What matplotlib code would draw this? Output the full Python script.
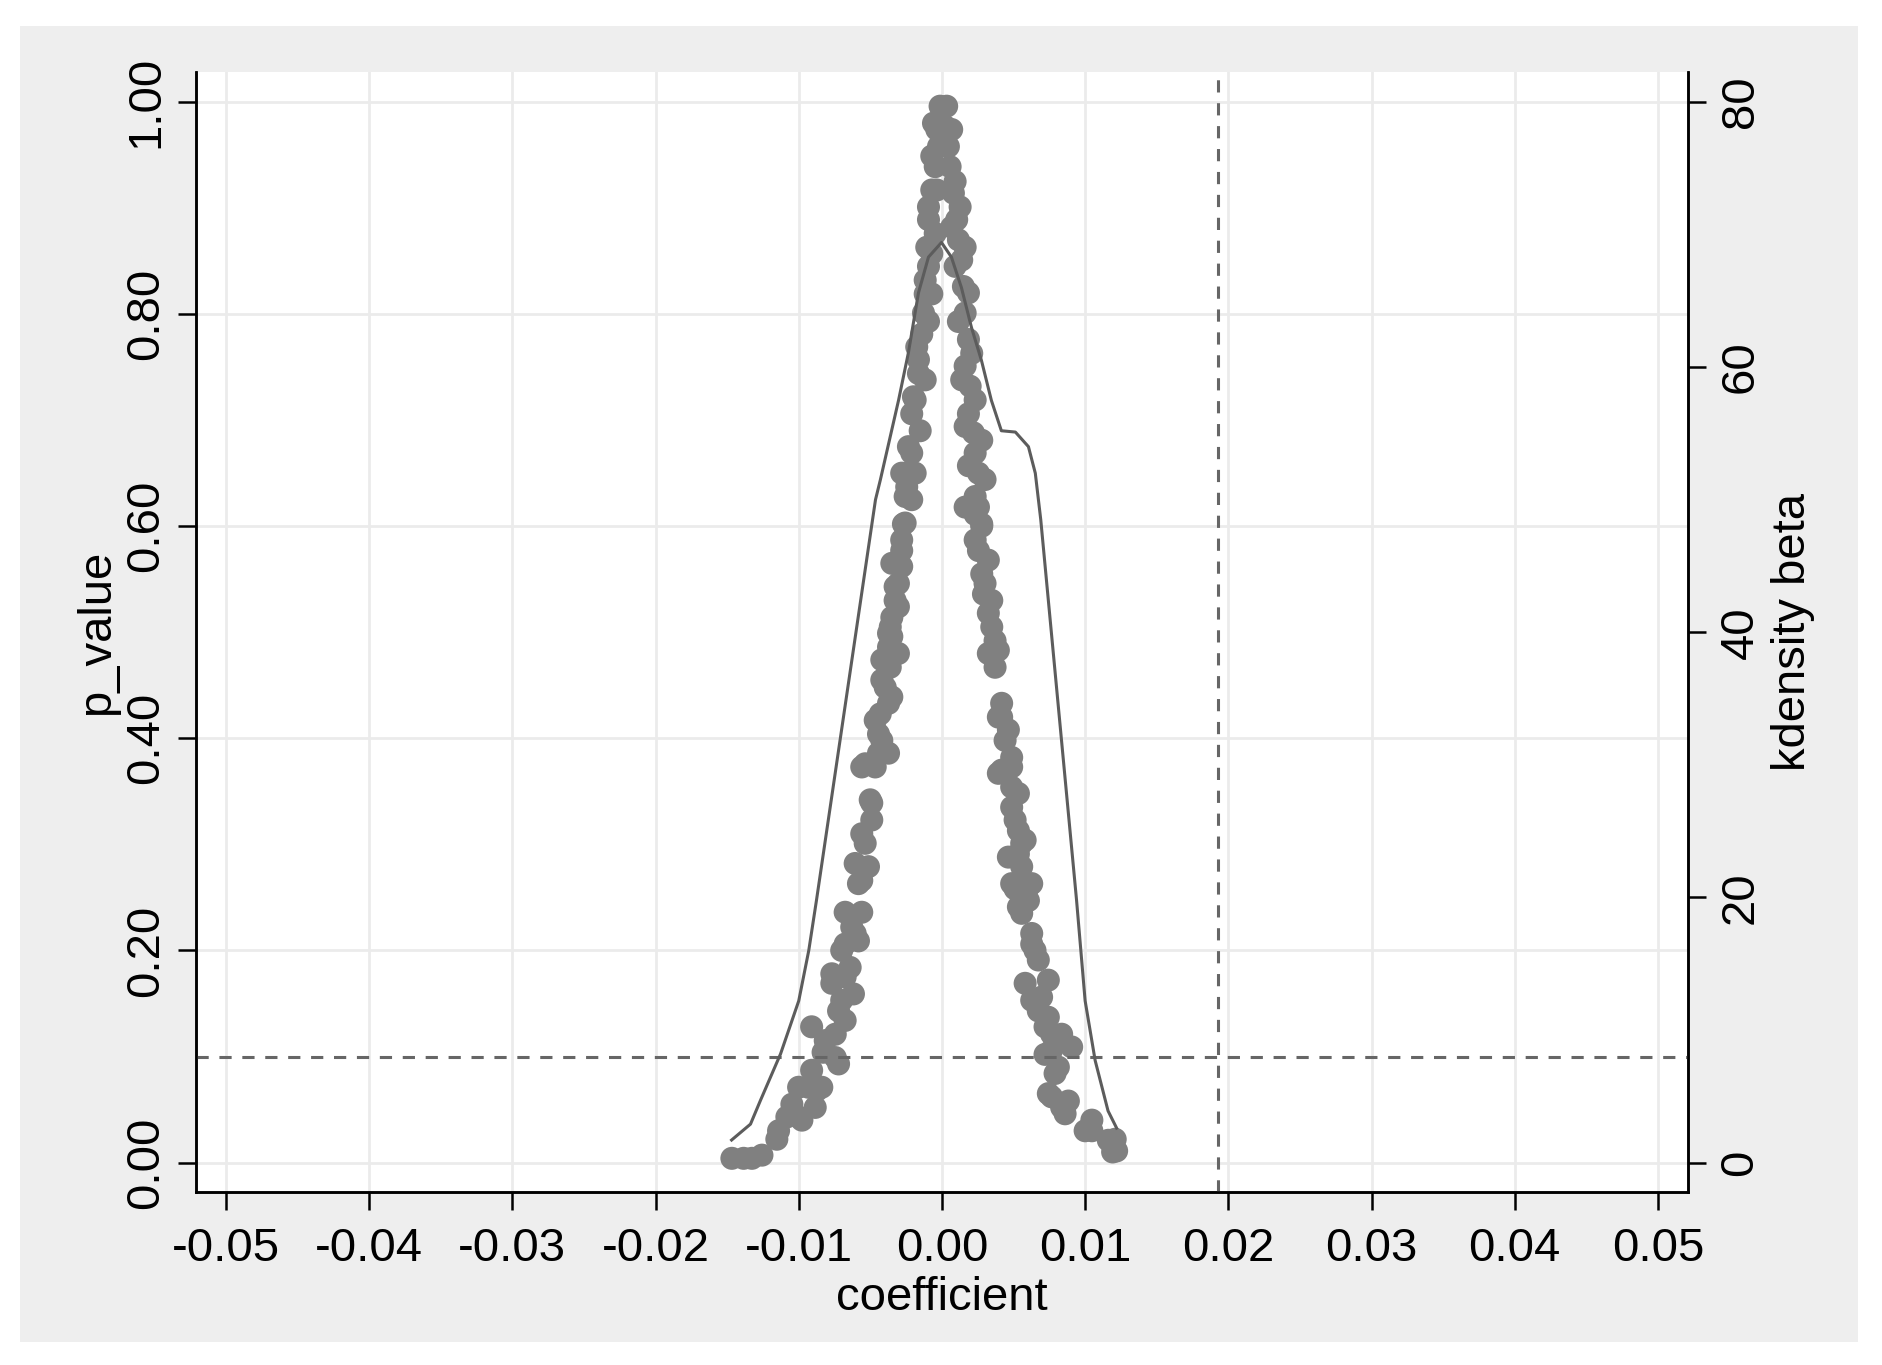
import matplotlib
matplotlib.use("Agg")
import matplotlib.pyplot as plt
from matplotlib.patches import Rectangle

plt.rcParams['font.family'] = ['Liberation Sans', 'DejaVu Sans']

# p-value vs coefficient, left branch (bottom -> top)
coef_left = [-0.01467, -0.01385, -0.01327, -0.01257, -0.01153, -0.01141, -0.01083, -0.01048,
             -0.01001, -0.01001, -0.00978, -0.00932, -0.00885, -0.00874, -0.00839, -0.00910,
             -0.00830, -0.00815, -0.00745, -0.00722, -0.00910, -0.00745, -0.00676, -0.00700,
             -0.00618, -0.00722, -0.00769, -0.00769, -0.00676, -0.00641, -0.00700, -0.00676,
             -0.00583, -0.00606, -0.00630, -0.00676, -0.00560, -0.00583, -0.00560, -0.00606,
             -0.00513, -0.00560, -0.00536, -0.00490, -0.00501, -0.00490, -0.00560, -0.00536,
             -0.00466, -0.00443, -0.00373, -0.00420, -0.00443, -0.00466, -0.00431, -0.00373,
             -0.00350, -0.00396, -0.00420, -0.00361, -0.00420, -0.00304, -0.00373, -0.00350,
             -0.00373, -0.00361, -0.00350, -0.00304, -0.00327, -0.00327, -0.00304, -0.00281,
             -0.00304, -0.00350, -0.00281, -0.00281, -0.00257, -0.00211, -0.00269, -0.00257,
             -0.00246, -0.00234, -0.00281, -0.00187, -0.00211, -0.00234, -0.00152, -0.00211,
             -0.00199, -0.00187, -0.00164, -0.00117, -0.00164, -0.00176, -0.00141, -0.00094,
             -0.00129, -0.00117, -0.00071, -0.00117, -0.00094, -0.00071, -0.00106, -0.00047,
             -0.00094, -0.00094, -0.00071, -0.00036, -0.00047, -0.00071, -0.00024, -0.00036,
             -0.00059, -0.00013]
p_left = [0.004, 0.004, 0.004, 0.007, 0.022, 0.030, 0.043, 0.055,
          0.071, 0.043, 0.040, 0.071, 0.052, 0.068, 0.071, 0.087,
          0.104, 0.115, 0.099, 0.093, 0.128, 0.121, 0.134, 0.153,
          0.159, 0.143, 0.169, 0.178, 0.175, 0.184, 0.200, 0.206,
          0.209, 0.216, 0.222, 0.236, 0.236, 0.263, 0.266, 0.282,
          0.279, 0.310, 0.301, 0.323, 0.342, 0.339, 0.373, 0.376,
          0.373, 0.386, 0.386, 0.398, 0.404, 0.417, 0.423, 0.433,
          0.439, 0.448, 0.455, 0.467, 0.474, 0.480, 0.486, 0.496,
          0.499, 0.505, 0.514, 0.524, 0.530, 0.543, 0.546, 0.562,
          0.565, 0.565, 0.577, 0.587, 0.603, 0.625, 0.602, 0.628,
          0.637, 0.650, 0.650, 0.650, 0.669, 0.675, 0.690, 0.706,
          0.722, 0.719, 0.744, 0.738, 0.757, 0.769, 0.781, 0.793,
          0.801, 0.819, 0.819, 0.832, 0.845, 0.857, 0.863, 0.876,
          0.889, 0.901, 0.917, 0.917, 0.939, 0.949, 0.958, 0.974,
          0.980, 0.996]

# right branch (top -> bottom)
coef_right = [0.00033, 0.00022, 0.00068, 0.00045, 0.00057, 0.00092, 0.00080, 0.00127,
              0.00103, 0.00068, 0.00115, 0.00162, 0.00138, 0.00092, 0.00150, 0.00185,
              0.00162, 0.00115, 0.00185, 0.00208, 0.00162, 0.00138, 0.00197, 0.00232,
              0.00185, 0.00162, 0.00220, 0.00278, 0.00232, 0.00185, 0.00255, 0.00301,
              0.00232, 0.00162, 0.00232, 0.00278, 0.00255, 0.00278, 0.00232, 0.00255,
              0.00324, 0.00278, 0.00301, 0.00290, 0.00348, 0.00324, 0.00348, 0.00371,
              0.00394, 0.00324, 0.00371, 0.00417, 0.00417, 0.00394, 0.00464, 0.00441,
              0.00487, 0.00417, 0.00487, 0.00394, 0.00534, 0.00487, 0.00511, 0.00487,
              0.00534, 0.00581, 0.00557, 0.00534, 0.00464, 0.00557, 0.00487, 0.00627,
              0.00511, 0.00604, 0.00534, 0.00557, 0.00604, 0.00627, 0.00650, 0.00673,
              0.00627, 0.00581, 0.00743, 0.00627, 0.00696, 0.00673, 0.00720, 0.00743,
              0.00766, 0.00836, 0.00906, 0.00720, 0.00766, 0.00813, 0.00790, 0.00743,
              0.00766, 0.00883, 0.00836, 0.00860, 0.01000, 0.01047, 0.01047, 0.01210,
              0.01162, 0.01192, 0.01220]
p_right = [0.996, 0.977, 0.974, 0.958, 0.939, 0.925, 0.914, 0.901,
           0.889, 0.882, 0.870, 0.863, 0.851, 0.845, 0.826, 0.820,
           0.801, 0.793, 0.776, 0.763, 0.751, 0.738, 0.732, 0.719,
           0.706, 0.694, 0.688, 0.681, 0.669, 0.657, 0.650, 0.644,
           0.628, 0.618, 0.611, 0.602, 0.618, 0.600, 0.587, 0.577,
           0.568, 0.555, 0.546, 0.536, 0.530, 0.518, 0.505, 0.492,
           0.483, 0.480, 0.467, 0.433, 0.420, 0.420, 0.408, 0.398,
           0.382, 0.370, 0.373, 0.367, 0.348, 0.354, 0.323, 0.335,
           0.313, 0.304, 0.301, 0.291, 0.288, 0.279, 0.263, 0.263,
           0.258, 0.260, 0.241, 0.235, 0.247, 0.216, 0.200, 0.191,
           0.206, 0.169, 0.172, 0.153, 0.156, 0.143, 0.128, 0.137,
           0.121, 0.121, 0.109, 0.102, 0.106, 0.090, 0.084, 0.065,
           0.062, 0.058, 0.052, 0.046, 0.030, 0.040, 0.030, 0.022,
           0.021, 0.010, 0.011]

# kernel density of beta
kd_x = [-0.01469, -0.01337, -0.01267, -0.01127, -0.01000, -0.00930, -0.00876, -0.00464,
        -0.00430, -0.00303, -0.00234, -0.00164, -0.00094, -0.00003, 0.00066, 0.00136,
        0.00206, 0.00276, 0.00345, 0.00415, 0.00513, 0.00604, 0.00652, 0.00690,
        0.00940, 0.01000, 0.01070, 0.01160, 0.01220]
kd_y = [1.7, 2.9, 4.7, 8.2, 12.2, 16.0, 19.8, 50.0,
        51.5, 57.5, 61.1, 65.6, 68.3, 69.4, 68.3, 66.0,
        63.0, 60.5, 57.5, 55.2, 55.1, 54.0, 52.0, 48.5,
        19.8, 12.2, 7.7, 3.9, 2.6]

p_cut = 0.1
beta_ref = 0.0193

x_ticks = [-0.05, -0.04, -0.03, -0.02, -0.01, 0.0, 0.01, 0.02, 0.03, 0.04, 0.05]
p_ticks = [0.0, 0.2, 0.4, 0.6, 0.8, 1.0]
kd_ticks = [0, 20, 40, 60, 80]

fig = plt.figure(figsize=(18.82, 13.65), dpi=100)
fig.patches.append(Rectangle((20 / 1882, 23 / 1365), 1838 / 1882, 1316 / 1365,
                             transform=fig.transFigure, facecolor='#eeeeee',
                             edgecolor='none', zorder=-10))
ax = fig.add_axes([0.1041, 0.1267, 0.7928, 0.8206])
ax.set_facecolor('white')

ax.scatter(coef_left + coef_right, p_left + p_right, s=275, color='#808080',
           edgecolors='none', zorder=3)
ax.axhline(p_cut, color='#666666', lw=2.2, ls=(0, (4, 3.5)), zorder=5)
ax.axvline(beta_ref, color='#666666', lw=2.2, ls=(0, (4, 3.5)), zorder=5)

ax.set_xlim(-0.0521, 0.0521)
ax.set_ylim(-0.0278, 1.0283)
ax.set_xticks(x_ticks)
ax.set_xticklabels([f'{v:.2f}' for v in x_ticks])
ax.set_yticks(p_ticks)
ax.set_yticklabels([f'{v:.2f}' for v in p_ticks])
ax.grid(True, color='#ebebeb', lw=2)
ax.set_axisbelow(True)

ax2 = ax.twinx()
ax2.plot(kd_x, kd_y, color='#5c5c5c', lw=2.2, zorder=4)
ax2.set_ylim(-0.0278 * 80, 1.0283 * 80)
ax2.set_yticks(kd_ticks)

for a in (ax, ax2):
    a.spines['top'].set_visible(False)
    for s in ('left', 'right', 'bottom'):
        a.spines[s].set_linewidth(1.8)
    a.tick_params(length=13, width=1.8, labelsize=34, direction='out')
ax.tick_params(axis='x', pad=12)
ax.tick_params(axis='y', pad=7, labelrotation=90)
ax2.tick_params(axis='y', pad=9, labelrotation=90)
for lab in ax.get_yticklabels() + ax2.get_yticklabels():
    lab.set_va('center')

ax.set_xlabel('coefficient', fontsize=34, labelpad=4)
ax.set_ylabel('p_value', fontsize=34, labelpad=4)
ax2.set_ylabel('kdensity beta', fontsize=34, labelpad=6)

fig.savefig('out.png', dpi=100, facecolor='white')
